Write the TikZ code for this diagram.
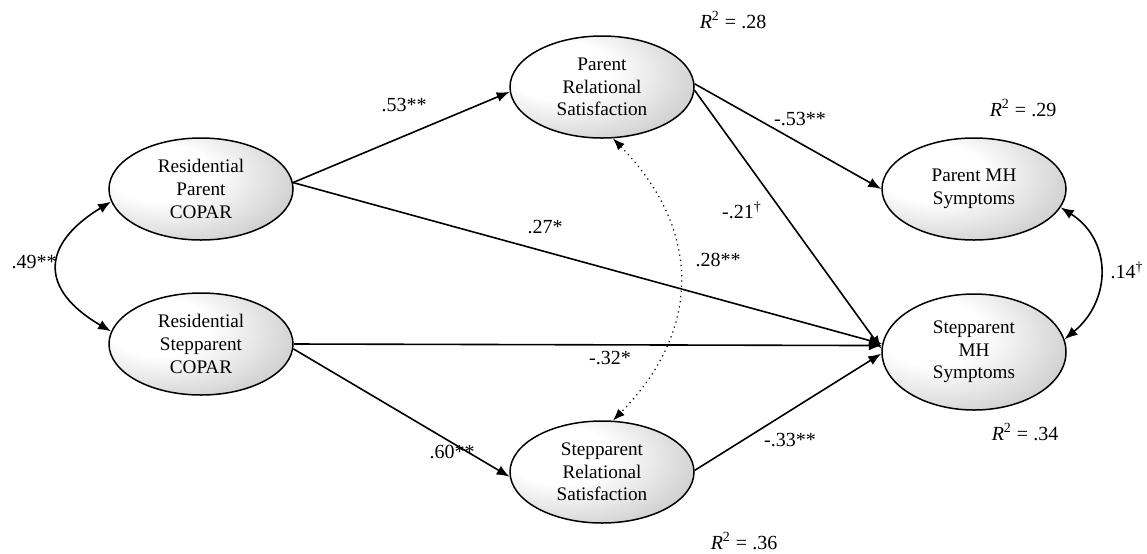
\documentclass[tikz,border=0pt]{standalone}
\usepackage{fontspec}
\setmainfont{Liberation Serif}
\usetikzlibrary{arrows.meta,shapes.geometric}
\pgfdeclareradialshading{ovalshade}{\pgfpoint{-14bp}{10bp}}{color(0bp)=(white); color(14bp)=(white); color(45bp)=(black!28); color(60bp)=(black!48); color(75bp)=(black!55)}
\begin{document}
\begin{tikzpicture}[x=0.5pt,y=-0.5pt,
  oval/.style={ellipse, draw, line width=0.75pt, shading=ovalshade, minimum width=92pt, minimum height=51pt, inner sep=0pt, align=center, font=\fontsize{9.6}{11.3}\selectfont},
  arr/.style={line width=0.8pt, -{Latex[length=6.5pt,width=5pt]}},
  bidir/.style={line width=0.8pt, {Latex[length=6.5pt,width=5pt]}-{Latex[length=6.5pt,width=5pt]}},
  dotbi/.style={line width=0.6pt, dotted, {Latex[length=6pt,width=4.5pt]}-{Latex[length=6pt,width=4.5pt]}},
  lbl/.style={font=\fontsize{10}{12}\selectfont, inner sep=0pt}]
\useasboundingbox (0,0) rectangle (1147,553);
\node[oval] (rp) at (201,189) {Residential\\Parent\\COPAR};
\node[oval] (rs) at (201,344) {Residential\\Stepparent\\COPAR};
\node[oval] (prs) at (602,87) {Parent\\Relational\\Satisfaction};
\node[oval] (srs) at (602,472) {Stepparent\\Relational\\Satisfaction};
\node[oval] (pmh) at (974,189) {Parent MH\\Symptoms};
\node[oval, minimum height=58pt] (smh) at (974,352) {Stepparent\\MH\\Symptoms};
\draw[arr] (rp.4) -- (prs.183);
\draw[arr] (rp.4) -- (smh.175);
\draw[arr] (rs.0) -- (smh.176);
\draw[arr] (rs.-3) -- (srs.183);
\draw[arr] (prs.2) -- (pmh.west);
\draw[arr] (prs.-2) -- (smh.178);
\draw[arr] (srs.1) -- (smh.181);
\draw[bidir] (rp.188) .. controls (40,245) and (40,290) .. (rs.172);
\draw[bidir] (pmh.-12) .. controls (1112,240) and (1112,300) .. (smh.8);
\draw[dotbi] (prs.-78) .. controls (702,230) and (702,330) .. (srs.78);
\node[lbl] (a) at (404,105) {.53**};
\node[lbl] (b) at (545,227) {.27*};
\node[lbl] (c) at (34,262) {.49**};
\node[lbl] (d) at (452,452) {.60**};
\node[lbl] (e) at (610,358) {-.32*};
\node[lbl] (f) at (718,260) {.28**};
\node[lbl] (g) at (742,210) {-.21\textsuperscript{\dag}};
\node[lbl] (h) at (800,119) {-.53**};
\node[lbl] (i) at (790,440) {-.33**};
\node[lbl] (j) at (1127,270) {.14\textsuperscript{\dag}};
\node[lbl] (r1) at (733,20) {\textit{R}\textsuperscript{2} = .28};
\node[lbl] (r2) at (1023,108) {\textit{R}\textsuperscript{2} = .29};
\node[lbl] (r3) at (1025,432) {\textit{R}\textsuperscript{2} = .34};
\node[lbl] (r4) at (744,541) {\textit{R}\textsuperscript{2} = .36};
\end{tikzpicture}
\end{document}
